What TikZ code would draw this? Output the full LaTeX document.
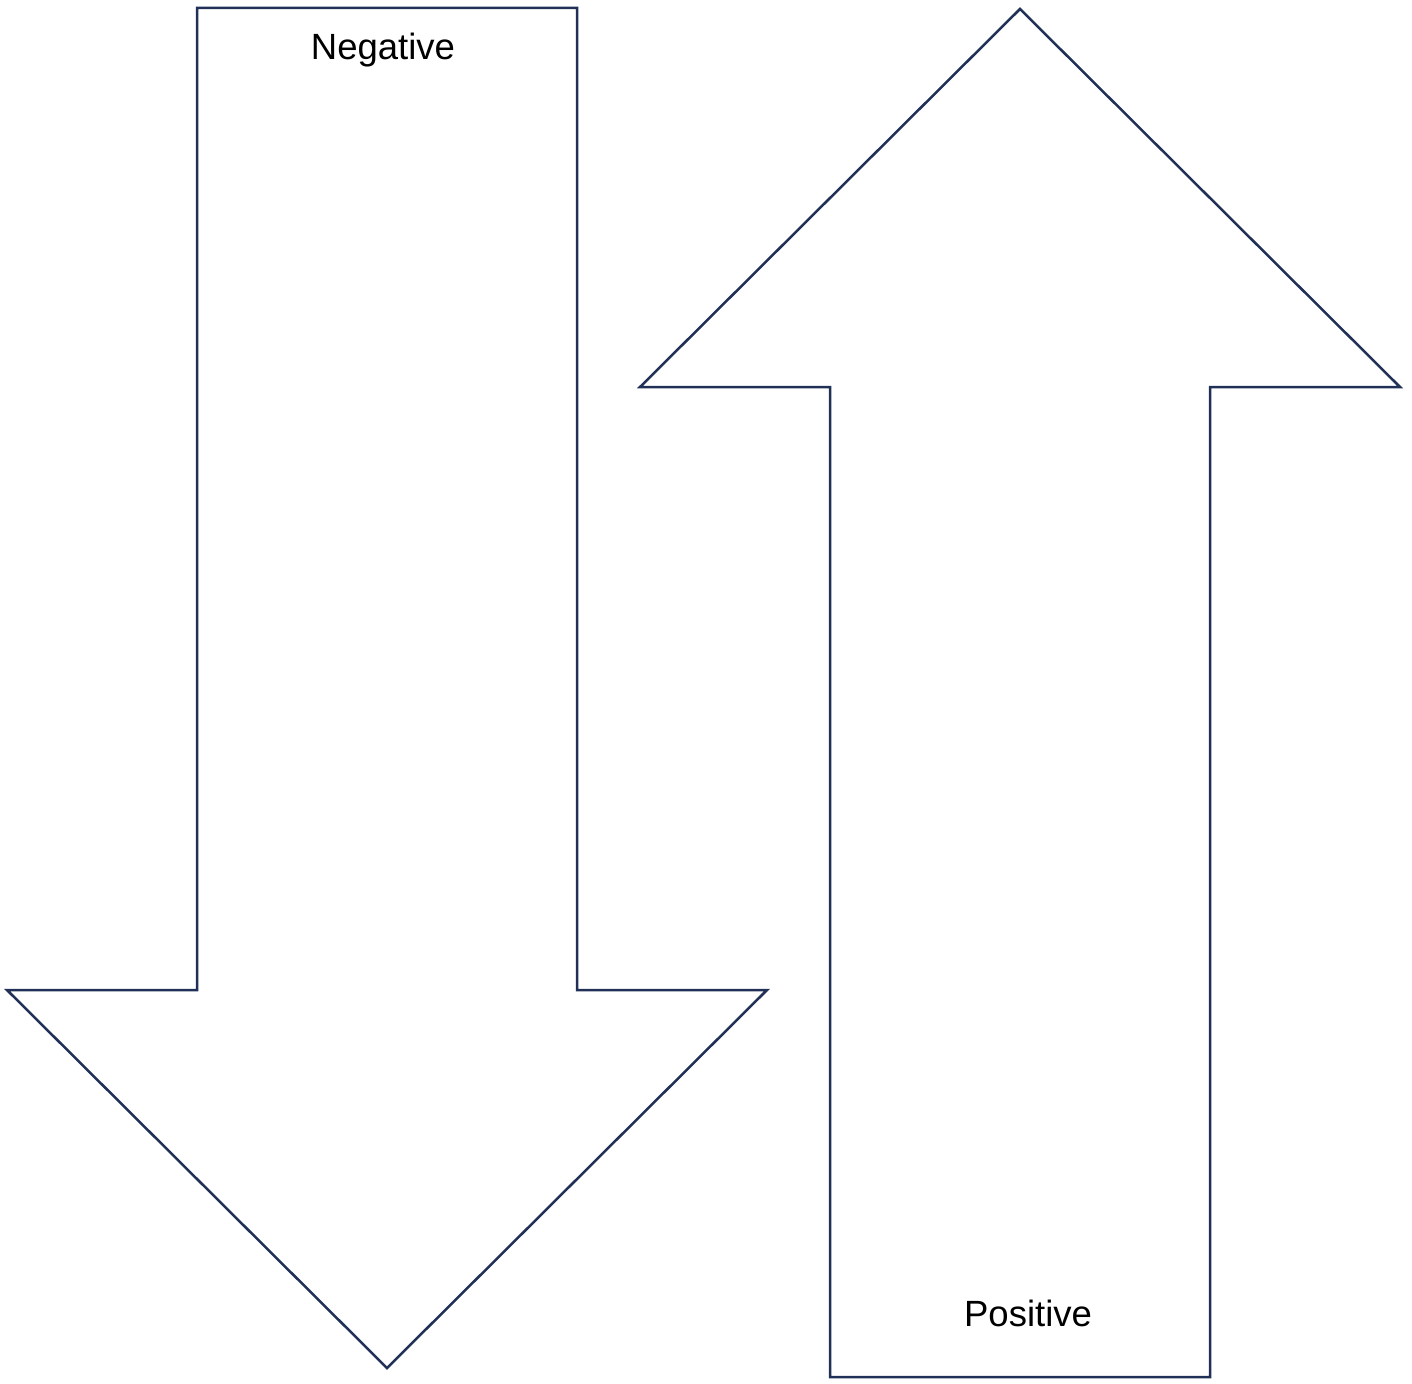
\documentclass[tikz,border=0pt]{standalone}
\usepackage{fontspec}
\setmainfont{Liberation Sans}
\definecolor{navy}{RGB}{32,48,86}
\tikzset{arrowshape/.style={draw=navy,line width=2.5pt,line join=miter,fill=white},
  lbl/.style={font=\fontsize{36.5}{40}\selectfont,text=black,inner sep=0pt,anchor=base}}
\begin{document}
\begin{tikzpicture}[x=1pt,y=-1pt]
\useasboundingbox (0,0) rectangle (1412,1383);
\draw[arrowshape] (197,8) coordinate (d1) -- (577,8) -- (577,990) -- (767,990) -- (387,1368) -- (7,990) -- (197,990) -- cycle;
\draw[arrowshape] (1020,9) coordinate (u1) -- (1400,387) -- (1210,387) -- (1210,1377) -- (830,1377) -- (830,387) -- (640,387) -- cycle;
\node[lbl] (neg) at (383,59.5) {Negative};
\node[lbl] (pos) at (1028,1326.5) {Positive};
\end{tikzpicture}
\end{document}
